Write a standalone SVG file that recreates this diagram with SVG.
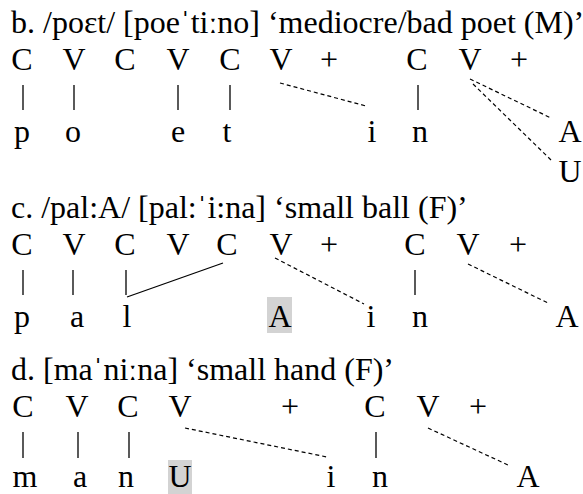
<svg xmlns="http://www.w3.org/2000/svg" width="583" height="494" viewBox="0 0 583 494" font-family="'Liberation Serif', Tinos, 'Times New Roman', 'DejaVu Serif', serif" font-size="32">
<style>
text{font-family:'Liberation Serif',Tinos,'Times New Roman','DejaVu Serif',serif;font-size:32px;fill:#000}
.m{text-anchor:middle}
.s{stroke:#000;stroke-width:1.3;fill:none}
.d{stroke:#000;stroke-width:1.2;stroke-dasharray:4 3;fill:none}
.hl{fill:#d3d3d3}
</style>
<rect width="583" height="494" fill="#fff"/>
<g id="titles">
<text id="title-b" x="11" y="33">b. /poεt/ [poeˈtiːno] ‘mediocre/bad poet (M)’</text>
<text id="title-c" x="11" y="218">c. /pal:A/ [pal:ˈi:na] ‘small ball (F)’</text>
<text id="title-d" x="11" y="380">d. [maˈniːna] ‘small hand (F)’</text>
</g>
<g id="highlights">
<rect class="hl" x="267" y="297" width="25" height="36"/>
<rect class="hl" x="168" y="460" width="24" height="34"/>
</g>
<g id="connectors">
<line class="s" x1="23" y1="85" x2="23" y2="110"/>
<line class="s" x1="74" y1="85" x2="74" y2="110"/>
<line class="s" x1="178" y1="85" x2="178" y2="110"/>
<line class="s" x1="230" y1="85" x2="230" y2="110"/>
<line class="s" x1="418" y1="85" x2="418" y2="110"/>
<line class="d" x1="280" y1="83" x2="366" y2="106"/>
<line class="d" x1="470" y1="79" x2="551" y2="118"/>
<line class="d" x1="473" y1="84" x2="551" y2="160"/>
<line class="s" x1="23" y1="270" x2="23" y2="295"/>
<line class="s" x1="73" y1="270" x2="73" y2="295"/>
<line class="s" x1="126" y1="270" x2="126" y2="295"/>
<line class="s" x1="415" y1="270" x2="415" y2="295"/>
<line class="s" x1="127" y1="297" x2="223" y2="263"/>
<line class="d" x1="275" y1="258" x2="364" y2="304"/>
<line class="d" x1="468" y1="264" x2="548" y2="303"/>
<line class="s" x1="23" y1="432" x2="23" y2="458"/>
<line class="s" x1="78" y1="432" x2="78" y2="458"/>
<line class="s" x1="129" y1="432" x2="129" y2="458"/>
<line class="s" x1="376" y1="432" x2="376" y2="458"/>
<line class="d" x1="185" y1="428" x2="327" y2="457"/>
<line class="d" x1="428" y1="428" x2="508" y2="465"/>
</g>
<g id="b-skeleton">
<text id="b-C1" class="m" x="22" y="70">C</text>
<text id="b-V1" class="m" x="74" y="70">V</text>
<text id="b-C2" class="m" x="125" y="70">C</text>
<text id="b-V2" class="m" x="178" y="70">V</text>
<text id="b-C3" class="m" x="230" y="70">C</text>
<text id="b-V3" class="m" x="281" y="70">V</text>
<text id="b-plus1" class="m" x="329" y="70">+</text>
<text id="b-C4" class="m" x="417" y="70">C</text>
<text id="b-V4" class="m" x="470" y="70">V</text>
<text id="b-plus2" class="m" x="519" y="70">+</text>
</g>
<g id="b-segments">
<text id="b-p" class="m" x="22" y="142">p</text>
<text id="b-o" class="m" x="73" y="142">o</text>
<text id="b-e" class="m" x="178" y="142">e</text>
<text id="b-t" class="m" x="227" y="142">t</text>
<text id="b-i" class="m" x="372" y="142">i</text>
<text id="b-n" class="m" x="420" y="142">n</text>
<text id="b-A" class="m" x="570" y="142">A</text>
<text id="b-U" class="m" x="570" y="182">U</text>
</g>
<g id="c-skeleton">
<text id="c-C1" class="m" x="22" y="255">C</text>
<text id="c-V1" class="m" x="74" y="255">V</text>
<text id="c-C2" class="m" x="125" y="255">C</text>
<text id="c-V2" class="m" x="178" y="255">V</text>
<text id="c-C3" class="m" x="227" y="255">C</text>
<text id="c-V3" class="m" x="281" y="255">V</text>
<text id="c-plus1" class="m" x="329" y="255">+</text>
<text id="c-C4" class="m" x="415" y="255">C</text>
<text id="c-V4" class="m" x="468" y="255">V</text>
<text id="c-plus2" class="m" x="518" y="255">+</text>
</g>
<g id="c-segments">
<text id="c-p" class="m" x="22" y="327">p</text>
<text id="c-a" class="m" x="77" y="327">a</text>
<text id="c-l" class="m" x="127" y="327">l</text>
<text id="c-A1" class="m" x="280" y="327">A</text>
<text id="c-i" class="m" x="371" y="327">i</text>
<text id="c-n" class="m" x="420" y="327">n</text>
<text id="c-A2" class="m" x="567" y="327">A</text>
</g>
<g id="d-skeleton">
<text id="d-C1" class="m" x="23" y="417">C</text>
<text id="d-V1" class="m" x="77" y="417">V</text>
<text id="d-C2" class="m" x="128" y="417">C</text>
<text id="d-V2" class="m" x="180" y="417">V</text>
<text id="d-plus1" class="m" x="290" y="417">+</text>
<text id="d-C3" class="m" x="375" y="417">C</text>
<text id="d-V3" class="m" x="428" y="417">V</text>
<text id="d-plus2" class="m" x="478" y="417">+</text>
</g>
<g id="d-segments">
<text id="d-m" class="m" x="25" y="487">m</text>
<text id="d-a" class="m" x="80" y="487">a</text>
<text id="d-n1" class="m" x="126" y="487">n</text>
<text id="d-U" class="m" x="180" y="487">U</text>
<text id="d-i" class="m" x="331" y="487">i</text>
<text id="d-n2" class="m" x="380" y="487">n</text>
<text id="d-A" class="m" x="528" y="487">A</text>
</g>
</svg>
